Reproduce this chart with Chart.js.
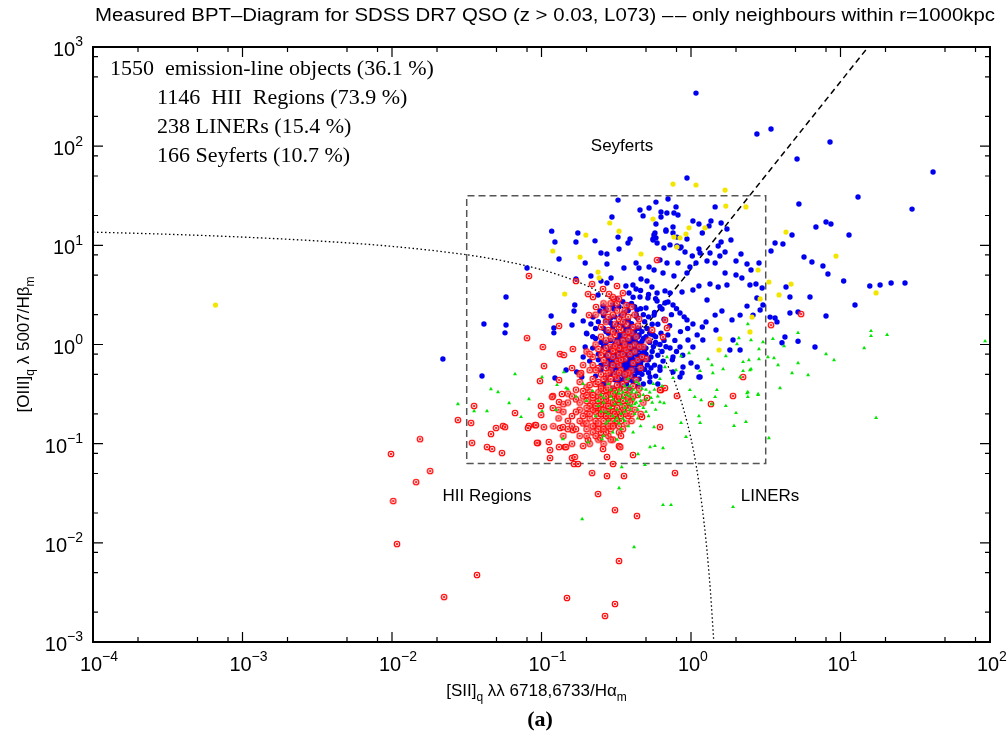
<!DOCTYPE html>
<html>
<head>
<meta charset="utf-8">
<script src="https://cdn.jsdelivr.net/npm/chart.js@4.4.1/dist/chart.umd.min.js"></script>
<style>
html, body { margin: 0; padding: 0; background: #fff; }
</style>
</head>
<body>
<canvas id="mycanvas" width="1008" height="753"></canvas>
<script>
// axis ranges and tick decades
var xMin = 1e-4, xMax = 1e2;
var yMin = 1e-3, yMax = 1e3;
var xDecades = [-4, -3, -2, -1, 0, 1, 2];
var yDecades = [-3, -2, -1, 0, 1, 2, 3];
var minorSteps = [2, 5, 8];

// [SII]/Ha , [OIII]/Hb  -- HII regions (red rings)
var hiiPoints = [
	[0.0354,0.240],[0.0276,0.173],[0.0338,0.162],[0.0497,0.144],[0.0553,0.151],[0.0459,0.125],[0.0343,0.102],[0.0432,0.0925],[0.0467,0.0884],[0.0544,0.0805],
	[0.0154,0.111],[0.00985,0.0787],[0.0180,0.053],[0.0145,0.041],[0.0102,0.0264],[0.0108,0.00973],[0.0370,0.00474],[0.0223,0.00284],
	[0.0947,0.102],[0.112,0.104],[0.114,0.0863],[0.114,0.0717],[0.131,0.0925],[0.1436,0.0925],[0.160,0.0717],[0.165,0.0624],[0.167,0.0734],[0.1754,0.0624],
	[0.218,0.0506],[0.274,0.0472],[0.356,0.0472],[0.301,0.0624],[0.258,0.0884],[0.274,0.0734],[0.330,0.0948],[0.409,0.0769],[0.781,0.0506],
	[0.239,0.0311],[0.310,0.0214],[0.435,0.0187],[0.330,0.00656],[0.148,0.00278],[0.310,0.00242],[0.266,0.00183],
	[5.45,2.03],[3.43,1.57],[2.23,0.470],[1.91,0.303],[1.36,0.251],[0.805,0.303],[0.670,1.77],[0.691,1.47],[0.650,1.19],[0.670,0.364],[0.630,0.348],
	[0.0824,4.91],[0.170,4.37],[0.218,4.07],[0.258,3.63],[0.320,3.89],[0.205,3.23],[0.221,3.01],[0.283,3.23],[0.305,2.87],[0.2315,2.39],[0.208,1.98],
	[0.131,1.54],[0.080,1.16],[0.593,7.11],
	[0.0977,0.428],[0.104,0.607],[0.133,0.802],[0.141,0.784],[0.162,0.901],[0.131,0.438],[0.119,0.303],[0.0993,0.240],[0.0665,0.204],[0.057,0.147],
	[0.0824,0.151],[0.0905,0.154],[0.1037,0.147],[0.133,0.144],[0.0933,0.102],[0.146,0.0925],
	[0.102,0.944],[0.160,0.580],[0.184,0.516],[0.137,0.317],[0.131,0.263],[0.118,0.296],[0.119,0.229],[0.0918,0.154],[0.0812,0.144],[0.0995,0.195],
	[0.139,0.147],[0.162,0.137],[0.205,0.109],[0.246,0.114],[0.336,0.0925],[0.470,0.186],[0.508,0.289],[0.620,0.348],[0.620,0.147],
	[0.25,0.22],[0.28,0.18],[0.22,0.26],[0.30,0.24],[0.26,0.15],[0.24,0.30],[0.32,0.20],[0.20,0.20],[0.27,0.28],[0.29,0.14],
	[0.23,0.17],[0.21,0.24],[0.33,0.26],[0.35,0.22],[0.31,0.30],[0.26,0.34],[0.22,0.13],[0.19,0.16],[0.18,0.22],[0.17,0.28],
	[0.24,0.11],[0.28,0.12],[0.31,0.16],[0.34,0.17],[0.37,0.25],[0.36,0.31],[0.30,0.36],[0.25,0.38],[0.21,0.33],[0.19,0.30],
	[0.16,0.19],[0.15,0.14],[0.18,0.12],[0.21,0.10],[0.26,0.10],[0.30,0.11],[0.33,0.13],[0.38,0.19],[0.40,0.28],[0.39,0.35],
	[0.35,0.40],[0.28,0.42],[0.23,0.40],[0.20,0.37],[0.17,0.35],[0.14,0.25],[0.13,0.18],[0.14,0.12],[0.16,0.10],[0.19,0.095],
	[0.27,0.20],[0.25,0.25],[0.29,0.21],[0.23,0.21],[0.27,0.24],[0.31,0.27],[0.28,0.31],[0.24,0.19],[0.26,0.17],[0.29,0.26],
	[0.22,0.29],[0.20,0.27],[0.32,0.23],[0.34,0.28],[0.30,0.19],[0.25,0.13],[0.27,0.13],[0.23,0.15],[0.21,0.18],[0.19,0.19],
	[0.36,0.20],[0.38,0.23],[0.42,0.22],[0.44,0.31],[0.41,0.38],[0.37,0.44],[0.32,0.46],[0.27,0.48],[0.22,0.45],[0.18,0.42],
	[0.15,0.32],[0.13,0.22],[0.12,0.15],[0.16,0.15],[0.20,0.14],[0.24,0.14],[0.29,0.16],[0.33,0.15],[0.35,0.14],[0.40,0.17],
	[0.46,0.20],[0.48,0.26],[0.45,0.36],[0.43,0.44],[0.39,0.48],[0.26,0.27],[0.24,0.23],[0.28,0.225],[0.30,0.21],[0.26,0.20],
	[0.23,0.23],[0.25,0.20],[0.27,0.19],[0.29,0.19],[0.31,0.20],[0.33,0.21],[0.26,0.22],[0.28,0.24],[0.30,0.26],[0.32,0.28],
	[0.24,0.27],[0.22,0.22],[0.20,0.23],[0.21,0.20],[0.23,0.24],[0.25,0.28],[0.27,0.30],[0.29,0.32],[0.31,0.34],[0.33,0.36],
	[0.24,0.33],[0.22,0.31],[0.20,0.31],[0.18,0.26],[0.17,0.21],[0.18,0.17],[0.20,0.16],[0.22,0.15],[0.24,0.16],[0.26,0.14],
	[0.28,0.15],[0.30,0.15],[0.32,0.17],[0.34,0.19],[0.36,0.24],[0.35,0.27],[0.33,0.30],[0.30,0.32],[0.27,0.35],[0.25,0.36],
	[0.28,0.37],[0.32,0.39],[0.36,0.35],[0.38,0.30],[0.39,0.26],[0.41,0.30],[0.40,0.20],[0.37,0.16],[0.34,0.12],[0.29,0.11],
	[0.23,0.12],[0.20,0.12],[0.17,0.14],[0.15,0.17],[0.14,0.21],[0.15,0.26],[0.16,0.30],[0.19,0.34],[0.21,0.39],[0.24,0.42],
	[0.24,0.58],[0.27,0.65],[0.30,0.75],[0.33,0.62],[0.36,0.72],[0.26,0.85],[0.29,0.95],[0.32,1.05],[0.35,0.92],[0.38,1.15],
	[0.31,1.25],[0.28,1.4],[0.25,1.2],[0.23,1.0],[0.22,0.75],[0.34,1.4],[0.37,1.6],[0.33,1.8],[0.30,2.0],[0.27,1.7],
	[0.40,1.3],[0.42,1.0],[0.39,0.80],[0.34,0.55],[0.29,0.55],[0.26,0.70],[0.31,0.88],[0.35,1.1],[0.44,1.55],[0.41,0.65],
	[0.21,0.55],[0.19,0.62],[0.18,0.50],[0.20,0.85],[0.25,1.5],[0.28,2.3],[0.32,2.6],[0.36,2.2],[0.38,1.9],[0.46,0.58],
	[0.50,0.72],[0.48,0.95],[0.52,1.1],[0.55,1.4],[0.45,1.8],[0.40,2.4],[0.23,2.0],[0.26,2.6],[0.30,3.0],[0.35,3.3],
	[0.26,0.45],[0.29,0.45],[0.31,0.50],[0.33,0.52],[0.28,0.52],[0.25,0.50],[0.23,0.55],[0.27,0.58],[0.30,0.62],[0.32,0.68],
	[0.34,0.70],[0.28,0.78],[0.30,0.86],[0.27,0.92],[0.25,0.78],[0.24,0.90],[0.33,0.78],[0.35,0.80],[0.37,0.88],[0.39,0.95],
	[0.36,1.0],[0.33,0.92],[0.31,0.96],[0.29,1.15],[0.27,1.1],[0.30,1.35],[0.33,1.5],[0.36,1.25],[0.38,1.35],[0.41,1.5],
	[0.35,1.7],[0.31,1.6],[0.28,1.9],[0.32,2.2],[0.35,2.0],[0.26,2.1],[0.29,2.6],[0.33,2.9],[0.37,2.5],[0.42,2.0],
	[0.43,1.2],[0.45,0.95],[0.42,0.85],[0.44,0.70],[0.47,0.75],[0.40,0.55],[0.38,0.52],[0.36,0.50],[0.22,0.62],[0.21,0.80]
];

// LINERs (green triangles)
var linerPoints = [
	[2.40,1.61],[5.20,1.31],[3.53,1.14],[3.03,1.06],[4.19,0.966],[2.09,1.16],[2.52,1.11],[16.0,1.37],[16.0,1.22],[20.5,1.25],
	[14.4,0.922],[92.7,1.08],[8.0,0.802],[9.05,0.698],[3.27,0.748],[3.59,0.731],[3.82,0.621],[5.20,0.651],[4.74,0.516],[6.07,0.492],
	[3.94,0.364],[2.52,0.566],[2.23,0.667],[2.23,0.541],[2.44,0.698],[2.85,0.714],[2.40,0.332],[2.40,0.296],[2.81,0.317],[1.49,0.348],
	[1.45,0.296],[1.71,0.240],[2.00,0.204],[2.33,0.166],[1.94,0.151],[3.32,0.114],[17.3,0.182],[1.38,0.251],
	[0.650,0.0904],[0.735,0.0241],[0.650,0.0241],[1.91,0.0230],[0.926,0.117],[0.858,0.162],[1.15,0.162],[1.13,0.190],[1.06,0.296],[1.17,0.275],
	[0.984,0.348],[1.64,0.566],[1.40,0.516],[1.15,0.541],[1.38,0.621],[1.30,0.714],[1.71,0.766],[2.13,0.470],[2.37,0.324],[2.81,0.310],
	[2.48,0.553],[2.85,0.901],[2.03,1.01],[0.691,0.748],[0.670,0.593],[0.758,0.460],[0.794,0.553],[0.858,0.766],[0.970,0.821],[0.660,0.257],
	[0.0459,0.356],[0.0512,0.332],[0.0276,0.251],[0.0354,0.213],[0.0432,0.213],[0.0607,0.257],[0.0665,0.504],[0.0824,0.282],[0.1008,0.470],[0.125,0.219],
	[0.141,0.528],[0.150,0.356],[0.344,0.0582],[0.330,0.0357],[0.187,0.0174],[0.416,0.00908],[0.492,0.0610],[0.442,0.0787],[0.532,0.0925],[0.574,0.0948],
	[0.127,0.391],[0.146,0.364],[0.1008,0.213],[0.073,0.186],[0.139,0.111],[0.205,0.104],[0.254,0.111],[0.566,0.147],[0.620,0.263],
	[0.28,0.20],[0.32,0.22],[0.26,0.26],[0.35,0.18],[0.30,0.28],[0.24,0.24],[0.37,0.27],[0.33,0.32],[0.29,0.35],[0.39,0.22],
	[0.42,0.25],[0.45,0.30],[0.40,0.33],[0.36,0.38],[0.31,0.17],[0.27,0.16],[0.23,0.19],[0.34,0.14],[0.38,0.15],[0.44,0.18],
	[0.48,0.23],[0.50,0.28],[0.47,0.36],[0.43,0.42],[0.30,0.13],[0.25,0.31],[0.22,0.34],[0.28,0.40],[0.34,0.25],[0.36,0.21],
	[0.53,0.33],[0.55,0.26],[0.52,0.19],[0.58,0.22],[0.60,0.30],[0.56,0.40],[0.62,0.45],[0.20,0.27],[0.19,0.40],[0.17,0.30],
	[0.26,0.12],[0.32,0.11],[0.41,0.13],[0.46,0.15],[0.38,0.45],
	[0.27,0.21],[0.29,0.23],[0.31,0.25],[0.33,0.27],[0.35,0.29],[0.37,0.31],[0.39,0.30],[0.41,0.28],[0.43,0.26],[0.45,0.24],
	[0.30,0.19],[0.32,0.18],[0.34,0.20],[0.36,0.23],[0.38,0.25],[0.40,0.24],[0.42,0.20],[0.44,0.22],[0.46,0.27],[0.48,0.31],
	[0.29,0.30],[0.31,0.33],[0.33,0.35],[0.35,0.33],[0.37,0.35],[0.39,0.38],[0.41,0.35],[0.43,0.33],[0.45,0.40],[0.50,0.35],
	[0.26,0.29],[0.24,0.27],[0.25,0.21],[0.28,0.17],[0.33,0.16],[0.36,0.17],[0.50,0.21],[0.54,0.29],[0.57,0.35],[0.64,0.38]
];

// Seyferts (blue dots)
var seyfertPoints = [
	[1.08,343],[2.76,132.7],[3.43,149],[8.51,110],[5.12,74.3],[0.940,47.8],[5.27,26.1],[6.85,15.3],[8.0,17.2],[8.63,16.4],
	[4.74,12.7],[3.65,10.55],[4.12,10.3],[1.45,24.4],[0.702,29.3],[0.583,27.3],[0.524,23.8],[0.478,19.8],[0.794,24.4],[0.690,21.2],
	[0.769,21.2],[0.818,20.2],[0.630,19.3],[0.583,16.4],[0.758,15.3],[0.680,14.3],[0.574,13.3],[0.565,12.7],[0.583,11.9],[0.557,11.6],
	[0.758,13.3],[0.806,12.1],[0.940,11.6],[1.03,17.6],[1.13,16.4],[1.32,15.7],[1.36,17.6],[1.59,16.8],[1.74,14.6],[1.19,13.3],
	[1.59,10.8],[1.85,11.3],[1.52,9.85],[0.724,10.1],[0.806,9.85],[0.844,9.4],[1.13,9.18],
	[41.6,54.9],[13.1,30.7],[30.1,23.2],[11.4,12.7],[3.43,8.77],[5.70,7.62],[6.44,6.79],[7.63,6.19],[8.24,5.14],[10.5,4.37],
	[15.7,3.89],[18.4,3.98],[21.8,4.17],[27.0,4.17],[12.5,2.50],[8.0,1.94],[5.20,2.13],[4.59,2.08],[6.25,3.01],[4.59,3.01],
	[4.32,3.80],[4.25,1.19],[5.20,1.08],[6.75,0.944],[3.38,1.89],[3.65,1.85],[3.76,1.69],[4.06,1.04],
	[0.0579,3.01],[0.0412,1.61],[0.0579,1.57],[0.057,1.31],[0.0219,0.714],[0.040,0.481],[0.080,5.90],[0.117,13.9],[0.123,10.8],[0.131,7.28],
	[0.175,13.3],[0.170,10.8],[0.228,11.1],[0.196,6.64],[0.250,8.37],[0.274,8.18],[0.274,6.48],[0.325,28.6],[0.296,19.3],[0.325,12.1],
	[0.330,9.18],[0.391,11.6],[0.379,10.55],[0.356,5.90],[0.214,4.91],[0.250,4.37],[0.274,4.17],[0.292,4.69],[0.170,4.57],[0.116,1.94],
	[0.121,1.47],[0.160,1.57],[0.165,2.18],[0.167,2.50],
	[0.456,22.7],[0.630,21.7],[0.680,13.9],[0.593,10.55],[0.557,11.3],[0.429,6.64],[0.449,5.90],[0.524,6.04],[0.566,5.64],[0.620,7.11],
	[0.659,9.4],[0.463,4.57],[0.508,4.37],[0.548,3.80],[0.593,3.31],[0.670,3.47],[0.409,3.98],[0.429,3.63],[0.367,3.89],[0.385,3.31],
	[0.456,3.01],[0.515,2.94],[0.593,2.75],[0.702,2.68],[0.320,2.88],[0.379,2.50],[0.435,2.23],[0.500,2.33],[0.566,1.98],[0.640,2.28],
	[0.305,2.28],[0.356,2.08],[0.258,2.44],[0.246,2.18],[0.221,1.89],[0.190,1.73],[0.214,1.61],[0.270,1.73],
	[0.858,9.62],[0.912,8.57],[1.02,7.80],[1.15,8.37],[1.34,8.37],[1.56,7.80],[1.69,8.57],[2.16,8.18],[2.00,6.95],[2.37,6.48],
	[2.85,6.64],[2.52,5.64],[2.00,5.02],[1.69,5.26],[1.45,6.64],[1.28,6.95],[1.08,6.64],[0.984,6.04],[0.818,6.64],[0.691,6.64],
	[0.650,5.26],[0.769,4.91],[0.940,5.26],[1.13,3.89],[1.34,4.07],[1.52,3.80],[1.74,3.98],[2.19,4.69],[2.48,3.98],[2.72,4.07],
	[2.99,3.71],[2.76,2.94],[2.37,2.44],[2.13,1.98],[1.88,1.77],[1.61,2.18],[1.45,1.98],[1.26,1.69],[1.19,1.50],[1.03,1.61],
	[0.940,1.77],[0.844,2.08],[0.758,2.50],[0.670,2.62],[0.724,3.31],[0.871,3.38],[1.03,3.55],[1.28,2.81],[1.47,1.40],[1.10,1.25],
	[0.955,1.11],[0.844,0.944],[0.724,0.922],[0.758,0.748],[0.884,0.593],[1.10,0.593],[1.13,0.470],[0.871,0.516],[1.91,1.11],[1.82,0.88],
	[2.13,0.88],[2.90,2.23],[3.03,2.50],[2.60,1.98],[1.20,1.11],[1.03,0.944],
	[0.172,0.528],[0.123,0.460],[0.190,0.748],[0.196,0.944],[0.201,1.28],[0.239,3.16],[0.270,2.28],[0.121,1.31],[0.146,0.553],[0.186,0.470],
	[0.274,0.438],[0.361,0.470],[0.456,0.553],[0.532,0.470],[0.620,0.593],[0.758,0.528],[0.844,0.470],[1.15,0.470],
	[0.30,0.95],[0.33,1.1],[0.36,0.82],[0.28,0.72],[0.41,1.25],[0.38,0.66],[0.32,0.58],[0.35,0.50],[0.44,0.88],[0.27,1.05],
	[0.31,1.35],[0.39,1.5],[0.34,0.75],[0.37,1.0],[0.29,0.85],[0.42,0.62],[0.46,0.78],[0.33,0.45],[0.36,0.55],[0.40,0.48],
	[0.26,0.62],[0.24,0.80],[0.30,0.52],[0.35,1.2],[0.43,1.05],[0.48,1.15],[0.38,1.75],[0.32,1.6],[0.28,1.3],[0.45,1.45],
	[0.50,0.92],[0.52,0.70],[0.47,0.58],[0.41,0.42],[0.37,0.40],[0.34,0.38],[0.31,0.44],[0.29,0.50],[0.27,0.46],[0.25,0.55],
	[0.39,0.72],[0.36,0.68],[0.33,0.88],[0.31,0.78],[0.40,0.92],[0.42,0.80],[0.38,0.85],[0.35,0.62],[0.30,0.66],[0.34,1.0],
	[0.44,0.68],[0.47,0.95],[0.53,1.3],[0.55,0.85],[0.58,1.05],[0.49,1.7],[0.43,2.0],[0.36,2.1],[0.29,1.85],[0.26,1.45],
	[0.23,1.15],[0.22,0.92],[0.21,0.68],[0.23,0.48],[0.26,0.40],[0.30,0.36],[0.39,0.36],[0.45,0.45],[0.52,0.52],[0.57,0.62],
	[0.60,0.78],[0.62,1.0],[0.56,1.25],[0.51,1.45],[0.46,2.3],[0.40,2.6],[0.33,2.4],[0.27,2.2],[0.24,1.7],[0.20,1.3],
	[0.37,0.58],[0.32,0.70],[0.35,0.90],[0.39,1.1],[0.42,1.35],[0.37,1.3],[0.33,1.25],[0.29,1.1],[0.31,0.60],[0.40,0.58],
	[0.36,0.46],[0.43,0.55],[0.34,0.52],[0.28,0.58],[0.38,0.50],[0.41,0.70],[0.46,1.02],[0.50,1.2],[0.44,1.2],[0.35,1.55],
	[0.30,1.5],[0.47,0.50],[0.54,0.58],[0.58,0.48],[0.62,0.55],[0.65,0.68],[0.60,0.40],[0.53,0.42],[0.48,0.40],[0.44,0.38],
	[0.31,0.62],[0.33,0.68],[0.35,0.74],[0.37,0.78],[0.39,0.84],[0.41,0.90],[0.43,0.96],[0.30,0.80],[0.32,0.92],[0.34,0.84],
	[0.36,0.96],[0.38,0.98],[0.40,1.05],[0.42,1.12],[0.44,1.02],[0.29,0.64],[0.31,0.70],[0.33,0.76],[0.35,0.70],[0.37,0.64],
	[0.39,0.60],[0.41,0.54],[0.43,0.62],[0.45,0.72],[0.47,0.82],[0.49,0.88],[0.36,0.52],[0.38,0.56],[0.34,0.60],[0.32,0.50],
	[0.30,0.56],[0.28,0.66],[0.27,0.78],[0.29,0.92],[0.31,1.02],[0.33,1.15],[0.35,1.30],[0.37,1.42],[0.39,1.30],[0.41,1.18],
	[0.43,1.45],[0.45,1.25],[0.47,1.35],[0.40,1.62],[0.36,1.70],[0.34,1.95],[0.38,2.2],[0.42,2.4],[0.44,1.85],[0.48,2.0],
	[0.31,1.9],[0.29,1.65],[0.27,1.35],[0.25,1.05],[0.26,0.95],[0.28,0.88],[0.24,0.70],[0.25,0.62],[0.37,0.48],[0.35,0.44],
	[0.33,0.41],[0.39,0.44],[0.42,0.48],[0.44,0.52],[0.46,0.64],[0.48,0.70],[0.50,0.80],[0.51,0.62],[0.49,0.56],[0.54,0.75],
	[0.56,0.95],[0.53,1.05],[0.58,1.2],[0.55,1.6],[0.52,1.9],[0.57,2.1],[0.60,1.6],[0.63,1.3],[0.66,1.1],[0.64,0.85],
	[0.68,0.95],[0.70,1.25],[0.72,1.55],[0.66,1.8],[0.62,2.4],[0.58,2.9],[0.52,3.2],[0.46,3.5],[0.41,3.0],[0.35,2.7],
	[0.30,2.5],[0.26,1.95],[0.23,1.45],[0.22,1.2],[0.36,0.88],[0.38,0.93],[0.33,0.97],[0.35,1.05],[0.37,1.12],[0.34,1.22],
	[0.32,1.12],[0.40,0.76],[0.42,0.70],[0.44,0.78],[0.39,0.66],[0.36,0.62],[0.32,0.64],[0.30,0.72],[0.45,0.92],[0.47,1.08],
	[0.75,0.70],[0.80,0.85],[0.78,1.1],[0.85,1.35],[0.74,2.0],[0.80,2.3],[0.90,1.9],[0.95,1.45],[0.88,0.78],[1.00,0.65]
];

// objects between the two demarcations (yellow dots)
var otherPoints = [
	[0.758,41.5],[1.08,40.6],[1.69,36.1],[1.71,24.9],[2.33,24.4],[0.557,18.4],[4.32,13.6],[0.769,12.1],[0.844,11.9],[0.925,13.0],
	[1.24,15.0],[9.33,7.80],[4.67,4.07],[3.88,3.16],[17.3,3.31],[3.32,4.27],[2.90,2.88],[2.81,5.64],[2.48,1.34],[2.56,1.89],
	[1.56,1.14],[1.54,0.88],[0.286,16.8],[0.330,13.9],[0.198,12.7],[0.119,8.77],[0.181,7.62],[0.239,5.38],[0.143,3.23],[0.463,8.18],
	[0.805,9.62],[0.97,15.0],[0.00066,2.50],[0.243,4.69]
];

// Kewley et al. maximum-starburst curve, sampled
var kewleyX = [1e-4, 3.162e-4, 1e-3, 3.162e-3, 0.01, 0.03162, 0.05623, 0.1, 0.1585, 0.2512, 0.3981, 0.5012, 0.631, 0.7943, 1.0, 1.122, 1.259, 1.349, 1.421];
var kewleyY = [13.59, 12.93, 12.11, 11.08, 9.76, 8.03, 6.94, 5.68, 4.54, 3.29, 2.00, 1.376, 0.823, 0.385, 0.1122, 0.0430, 0.01065, 0.00324, 0.001];
// Seyfert / LINER separation
var seyLinerX = [0.4834, 15.31];
var seyLinerY = [1.458, 1000];
// selection box corners
var boxX = [0.0316, 3.16, 3.16, 0.0316, 0.0316];
var boxY = [0.063, 0.063, 31.6, 31.6, 0.063];

var countLines = [
	'1550  emission-line objects (36.1 %)',
	'1146  HII  Regions (73.9 %)',
	'238 LINERs (15.4 %)',
	'166 Seyferts (10.7 %)'
];

function toXY(pairs) {
	return pairs.map(function(p) { return { x: p[0], y: p[1] }; });
}
function zipXY(xs, ys) {
	return xs.map(function(v, i) { return { x: v, y: ys[i] }; });
}

// open red ring with a small cross, used as the HII marker
function ringMarker() {
	var c = document.createElement('canvas');
	c.width = 8; c.height = 8;
	var g = c.getContext('2d');
	g.fillStyle = 'rgba(255,190,190,0.55)';
	g.strokeStyle = '#ff0000';
	g.lineWidth = 1.1;
	g.beginPath(); g.arc(4, 4, 2.8, 0, Math.PI * 2); g.fill(); g.stroke();
	g.lineWidth = 0.8;
	g.beginPath();
	g.moveTo(2.7, 2.7); g.lineTo(5.3, 5.3);
	g.moveTo(5.3, 2.7); g.lineTo(2.7, 5.3);
	g.stroke();
	return c;
}

var SANS = '"Liberation Sans", Arial, sans-serif';
var SERIF = '"Liberation Serif", "Times New Roman", serif';

// text with sub/superscript pieces: [text, shift] shift 1 = sup, -1 = sub
function richWidth(ctx, parts, size, family) {
	var w = 0;
	parts.forEach(function(p) {
		ctx.font = (p[1] ? Math.round(size * 0.7) : size) + 'px ' + family;
		w += ctx.measureText(p[0]).width;
	});
	return w;
}
function drawRich(ctx, parts, x, y, align, size, family) {
	var w = richWidth(ctx, parts, size, family);
	var cx = align === 'center' ? x - w / 2 : (align === 'right' ? x - w : x);
	ctx.textAlign = 'left';
	ctx.textBaseline = 'alphabetic';
	parts.forEach(function(p) {
		ctx.font = (p[1] ? Math.round(size * 0.7) : size) + 'px ' + family;
		var dy = p[1] > 0 ? -size * 0.48 : (p[1] < 0 ? size * 0.32 : 0);
		ctx.fillText(p[0], cx, y + dy);
		cx += ctx.measureText(p[0]).width;
	});
}
function expText(e) {
	return e < 0 ? '\u2212' + (-e) : '' + e;
}

var framePlugin = {
	id: 'frame',
	afterDraw: function(chart) {
		var ctx = chart.ctx;
		var a = chart.chartArea;
		var xs = chart.scales.x, ys = chart.scales.y;
		ctx.save();
		ctx.strokeStyle = '#000';
		ctx.fillStyle = '#000';

		// ticks on all four sides, pointing inwards
		ctx.lineWidth = 1.2;
		ctx.beginPath();
		xDecades.forEach(function(d) {
			var px = xs.getPixelForValue(Math.pow(10, d));
			ctx.moveTo(px, a.bottom); ctx.lineTo(px, a.bottom - 10);
			ctx.moveTo(px, a.top); ctx.lineTo(px, a.top + 10);
			if (d < 2) minorSteps.forEach(function(m) {
				var mx = xs.getPixelForValue(m * Math.pow(10, d));
				ctx.moveTo(mx, a.bottom); ctx.lineTo(mx, a.bottom - 5);
				ctx.moveTo(mx, a.top); ctx.lineTo(mx, a.top + 5);
			});
		});
		yDecades.forEach(function(d) {
			var py = ys.getPixelForValue(Math.pow(10, d));
			ctx.moveTo(a.left, py); ctx.lineTo(a.left + 10, py);
			ctx.moveTo(a.right, py); ctx.lineTo(a.right - 10, py);
			if (d < 3) minorSteps.forEach(function(m) {
				var my = ys.getPixelForValue(m * Math.pow(10, d));
				ctx.moveTo(a.left, my); ctx.lineTo(a.left + 5, my);
				ctx.moveTo(a.right, my); ctx.lineTo(a.right - 5, my);
			});
		});
		ctx.stroke();

		ctx.lineWidth = 2;
		ctx.strokeRect(a.left, a.top, a.right - a.left, a.bottom - a.top);

		// tick labels
		xDecades.forEach(function(d) {
			var px = xs.getPixelForValue(Math.pow(10, d));
			ctx.font = '20px ' + SANS;
			var w10 = ctx.measureText('10').width;
			drawRich(ctx, [['10', 0], [expText(d), 1]], px - w10 / 2 - 2, a.bottom + 29, 'left', 20, SANS);
		});
		yDecades.forEach(function(d) {
			var py = ys.getPixelForValue(Math.pow(10, d));
			drawRich(ctx, [['10', 0], [expText(d), 1]], a.left - 10, py + 9, 'right', 20, SANS);
		});

		// axis titles
		drawRich(ctx, [['[SII]', 0], ['q', -1], [' \u03bb\u03bb 6718,6733/H\u03b1', 0], ['m', -1]],
			(a.left + a.right) / 2 - 5, a.bottom + 54, 'center', 17, SANS);
		ctx.save();
		ctx.translate(29, (a.top + a.bottom) / 2);
		ctx.rotate(-Math.PI / 2);
		drawRich(ctx, [['[OIII]', 0], ['q', -1], [' \u03bb 5007/H\u03b2', 0], ['m', -1]], 0, 0, 'center', 17, SANS);
		ctx.restore();

		// plot title, fitted to the width of the frame
		var title = 'Measured BPT\u2013Diagram for SDSS DR7 QSO (z > 0.03, L073) \u2013\u200a\u2013 only neighbours within r=1000kpc';
		ctx.font = '18px ' + SANS;
		var tw = ctx.measureText(title).width;
		ctx.save();
		ctx.translate(545, 21);
		ctx.scale(900 / tw, 1);
		ctx.textAlign = 'center';
		ctx.textBaseline = 'alphabetic';
		ctx.fillText(title, 0, 0);
		ctx.restore();

		// region names
		ctx.textAlign = 'center';
		ctx.textBaseline = 'alphabetic';
		ctx.font = '17px ' + SANS;
		ctx.fillText('Seyferts', 622, 151);
		ctx.fillText('HII Regions', 487, 501);
		ctx.fillText('LINERs', 770, 501);

		// object counts
		ctx.textAlign = 'left';
		ctx.font = '22px ' + SERIF;
		ctx.fillText(countLines[0], 110, 75);
		ctx.fillText(countLines[1], 157, 104);
		ctx.fillText(countLines[2], 157, 133);
		ctx.fillText(countLines[3], 157, 162);

		// panel label
		ctx.textAlign = 'center';
		ctx.font = 'bold 22px ' + SERIF;
		ctx.fillText('(a)', 540, 726);
		ctx.restore();
	}
};

var ctx = document.getElementById('mycanvas');

var chart = new Chart(ctx, {
	type: 'scatter',
	data: {
		datasets: [
			{
				label: 'other',
				data: toXY(otherPoints),
				pointStyle: 'circle',
				pointRadius: 2.6,
				backgroundColor: '#f2e600',
				borderWidth: 0,
				order: 0
			},
			{
				label: 'LINERs',
				data: toXY(linerPoints),
				pointStyle: 'triangle',
				pointRadius: 2.3,
				backgroundColor: '#00e600',
				borderWidth: 0,
				order: 1
			},
			{
				label: 'HII Regions',
				data: toXY(hiiPoints),
				pointStyle: ringMarker(),
				pointRadius: 3,
				order: 2
			},
			{
				label: 'Seyferts',
				data: toXY(seyfertPoints),
				pointStyle: 'circle',
				pointRadius: 2.7,
				backgroundColor: '#0000f0',
				borderWidth: 0,
				order: 3
			},
			{
				label: 'Kewley',
				data: zipXY(kewleyX, kewleyY),
				showLine: true,
				pointRadius: 0,
				borderColor: '#000',
				borderWidth: 1.3,
				borderDash: [1.5, 2.5],
				tension: 0.4,
				cubicInterpolationMode: 'monotone',
				order: 5
			},
			{
				label: 'Seyfert/LINER',
				data: zipXY(seyLinerX, seyLinerY),
				showLine: true,
				pointRadius: 0,
				borderColor: '#000',
				borderWidth: 1.5,
				borderDash: [6, 4],
				order: 5
			},
			{
				label: 'box',
				data: zipXY(boxX, boxY),
				showLine: true,
				pointRadius: 0,
				borderColor: '#555',
				borderWidth: 1.5,
				borderDash: [7, 4],
				order: 6
			}
		]
	},
	options: {
		responsive: false,
		animation: false,
		devicePixelRatio: 1,
		layout: { padding: { left: 93, right: 18, top: 47, bottom: 111 } },
		plugins: {
			legend: { display: false },
			tooltip: { enabled: false }
		},
		scales: {
			x: { type: 'logarithmic', min: xMin, max: xMax, display: false },
			y: { type: 'logarithmic', min: yMin, max: yMax, display: false }
		}
	},
	plugins: [framePlugin]
});
</script>
</body>
</html>
